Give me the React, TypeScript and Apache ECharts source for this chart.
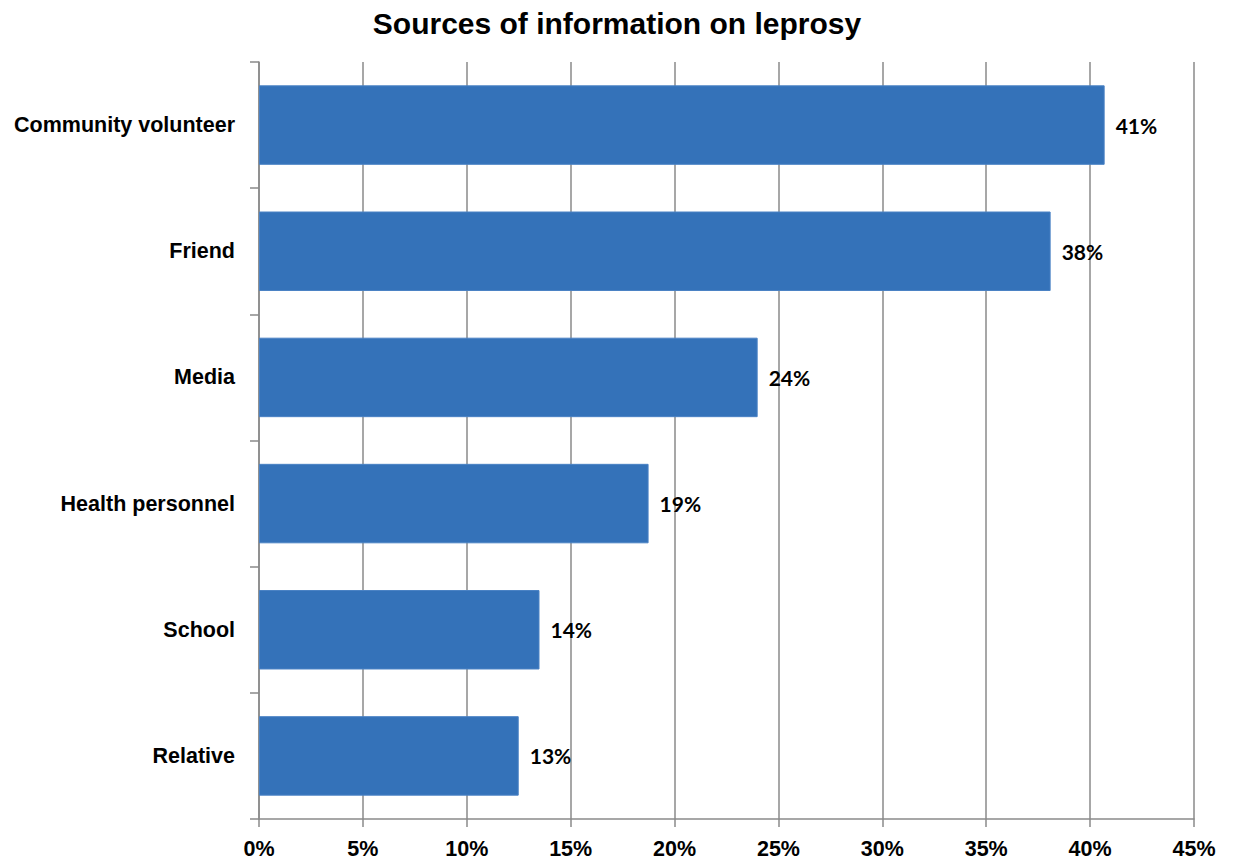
import React, { useEffect, useRef } from "react";
import * as echarts from "echarts";

const title = "Sources of information on leprosy";
const categories = ["Community volunteer", "Friend", "Media", "Health personnel", "School", "Relative"];
const values = [40.7, 38.1, 24.0, 18.75, 13.5, 12.5];
const xTicks = { min: 0, max: 45, interval: 5 };

const sans = "'Liberation Sans', Arial, sans-serif";
const gridColor = "#8a8a8a";

export default function App() {
  const ref = useRef<HTMLDivElement>(null);
  useEffect(() => {
    if (!ref.current) return;
    const chart = echarts.init(ref.current, undefined, { renderer: "svg" });
    chart.setOption({
      animation: false,
      backgroundColor: "#ffffff",
      title: {
        text: title,
        left: "center",
        top: 3,
        textStyle: {
          fontFamily: sans,
          fontWeight: "bold",
          fontSize: 30,
          color: "#000",
        },
      },
      grid: { left: 259, right: 40, top: 62, bottom: 44, containLabel: false, outerBoundsMode: "none" },
      xAxis: {
        type: "value",
        min: xTicks.min,
        max: xTicks.max,
        interval: xTicks.interval,
        axisLine: { show: true, lineStyle: { color: gridColor, width: 1.5 } },
        axisTick: { show: true, length: 8, lineStyle: { color: gridColor, width: 1.5 } },
        splitLine: { show: true, lineStyle: { color: gridColor, width: 1.5 } },
        axisLabel: {
          formatter: "{value}%",
          margin: 19,
          fontFamily: sans,
          fontWeight: "bold",
          fontSize: 21.5,
          color: "#000",
        },
      },
      yAxis: {
        type: "category",
        data: categories,
        inverse: true,
        axisLine: { show: true, lineStyle: { color: gridColor, width: 1.5 } },
        axisTick: { show: true, length: 9, lineStyle: { color: gridColor, width: 1.5 } },
        splitLine: { show: false },
        axisLabel: {
          margin: 24,
          fontFamily: sans,
          fontWeight: "bold",
          fontSize: 21.5,
          color: "#000",
        },
      },
      series: [
        {
          type: "bar",
          data: values,
          barCategoryGap: "37%",
          itemStyle: { color: "#3472b9", borderColor: "#4a82c4", borderWidth: 1 },
          label: {
            show: true,
            position: "right",
            distance: 11,
            formatter: (p: any) => Math.round(p.value) + "%",
            fontFamily: "Lato, 'Open Sans', sans-serif",
            fontWeight: "bold",
            fontSize: 21,
            color: "#000",
          },
        },
      ],
    });
    return () => chart.dispose();
  }, []);
  return (
    <div
      ref={ref}
      style={{ position: "absolute", left: 0, top: 0, width: 1234, height: 863 }}
    />
  );
}
